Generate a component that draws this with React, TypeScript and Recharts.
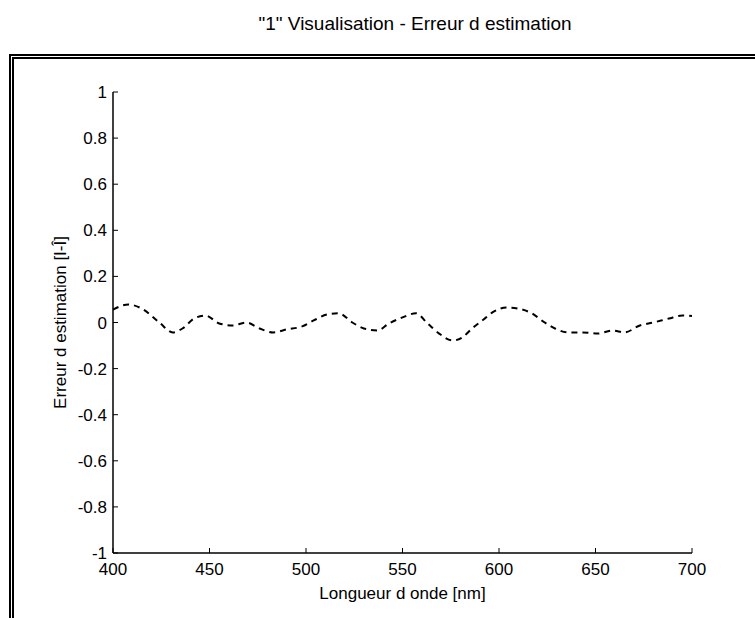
import React from 'react';
import { LineChart, Line, XAxis, YAxis, Label } from 'recharts';

const wavelengths = [400, 408, 415, 424, 431, 436, 442, 448, 455, 462, 469, 476, 483, 490, 498, 504, 511, 517, 524, 530, 537, 543, 550, 557, 563, 569, 576, 581, 586, 592, 597, 604, 610, 617, 623, 629, 636, 643, 651, 659, 665, 673, 680, 688, 695, 700];
const errors = [0.056, 0.078, 0.06, 0.0, -0.043, -0.026, 0.017, 0.03, -0.004, -0.013, 0.0, -0.026, -0.043, -0.03, -0.017, 0.009, 0.035, 0.04, 0.0, -0.026, -0.035, -0.004, 0.022, 0.04, -0.004, -0.048, -0.078, -0.065, -0.026, 0.013, 0.046, 0.065, 0.06, 0.04, 0.004, -0.026, -0.043, -0.043, -0.048, -0.035, -0.043, -0.013, 0.0, 0.017, 0.03, 0.028];
const xTicks = [400, 450, 500, 550, 600, 650, 700];
const yTicks = [-1, -0.8, -0.6, -0.4, -0.2, 0, 0.2, 0.4, 0.6, 0.8, 1];
const title = '"1" Visualisation - Erreur d estimation';
const xLabel = 'Longueur d onde [nm]';
const yLabel = 'Erreur d estimation [I-Î]';

const data = wavelengths.map((w, i) => ({ w, e: errors[i] }));

const FONT = '"Liberation Sans", Arial, sans-serif';
const tickStyle = { fontSize: 17, fill: '#000', fontFamily: FONT };
const fmt = (v: number) => String(v);
const blank = () => '';

export default function App() {
  return (
    <div style={{ position: 'absolute', left: 0, top: 0, width: 755, height: 618, overflow: 'hidden', background: '#fff' }}>
      <style>{`body{margin:0}`}</style>
      <div style={{ position: 'absolute', left: 0, top: 13, width: 830, textAlign: 'center', fontFamily: FONT, fontSize: 19, color: '#000' }}>{title}</div>
      <div style={{ position: 'absolute', left: 9, top: 54, width: 800, height: 600, border: '5px double #000', boxSizing: 'border-box' }} />
      <div style={{ position: 'absolute', left: 0, top: 0 }}>
        <LineChart width={755} height={618} data={data} margin={{ top: 92, right: 63, bottom: 35, left: 53 }}>
          <XAxis xAxisId="b" dataKey="w" type="number" domain={[400, 700]} ticks={xTicks} tickFormatter={fmt}
            height={30} axisLine={{ stroke: '#000', strokeWidth: 1.5 }} tickLine={{ stroke: '#000' }} tickSize={-5} tickMargin={15} tick={tickStyle} interval={0}>
            <Label content={(p: any) => {
              const vb = p.viewBox;
              return <text x={vb.x + vb.width / 2} y={vb.y + 46} textAnchor="middle" fontFamily={FONT} fontSize={17} fill="#000">{xLabel}</text>;
            }} />
          </XAxis>
          <XAxis xAxisId="t" orientation="top" dataKey="w" type="number" domain={[400, 700]} ticks={xTicks} tickFormatter={blank}
            height={0} axisLine={{ stroke: '#000', strokeWidth: 1.5 }} tickLine={{ stroke: '#000' }} tickSize={-5} tick={tickStyle} interval={0} />
          <YAxis yAxisId="l" type="number" domain={[-1, 1]} ticks={yTicks} tickFormatter={fmt}
            width={60} axisLine={{ stroke: '#000', strokeWidth: 1.5 }} tickLine={{ stroke: '#000' }} tickSize={-5} tickMargin={11} tick={tickStyle} interval={0}>
            <Label content={(p: any) => {
              const vb = p.viewBox;
              const cx = 60;
              const cy = vb.y + vb.height / 2;
              return <text x={cx} y={cy} transform={`rotate(-90 ${cx} ${cy})`} textAnchor="middle" dominantBaseline="central" fontFamily={FONT} fontSize={17} fill="#000">{yLabel}</text>;
            }} />
          </YAxis>
          <YAxis yAxisId="r" orientation="right" type="number" domain={[-1, 1]} ticks={yTicks} tickFormatter={blank}
            width={0} axisLine={{ stroke: '#000', strokeWidth: 1.5 }} tickLine={{ stroke: '#000' }} tickSize={-5} tick={tickStyle} interval={0} />
          <Line xAxisId="b" yAxisId="l" type="monotone" dataKey="e" stroke="#000" strokeWidth={2} strokeDasharray="6 5" dot={false} isAnimationActive={false} />
        </LineChart>
      </div>
    </div>
  );
}
